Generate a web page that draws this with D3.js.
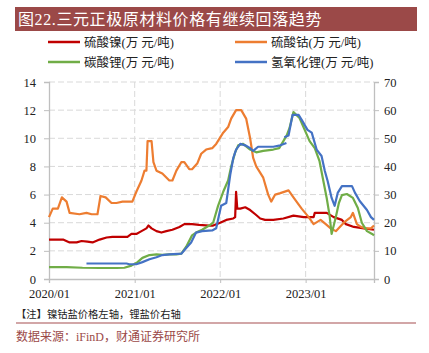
<!DOCTYPE html>
<html>
<head>
<meta charset="utf-8">
<script src="https://cdn.jsdelivr.net/npm/d3@7"></script>
<style>
  body { margin: 0; background: #fff; }
  svg { display: block; }
  text { font-family: "Liberation Serif", "Noto Sans CJK SC", serif; }
  .cjk { font-family: "Liberation Serif", "Noto Sans CJK SC", serif; }
</style>
</head>
<body>
<svg id="chart" width="429" height="353"></svg>
<script>
// Nickel sulfate (left axis, 万元/吨)
const nickel = [
  ['2020-01-01', 2.8], ['2020-03-01', 2.8], ['2020-03-29', 2.6], ['2020-04-28', 2.6],
  ['2020-05-19', 2.7], ['2020-06-13', 2.65], ['2020-07-05', 2.6], ['2020-08-04', 2.8],
  ['2020-09-03', 2.95], ['2020-09-28', 3.0], ['2020-10-28', 3.0], ['2020-12-01', 3.0],
  ['2020-12-18', 3.2], ['2021-01-08', 3.2], ['2021-01-30', 3.4], ['2021-02-20', 3.6],
  ['2021-03-01', 3.8], ['2021-03-14', 3.6], ['2021-04-04', 3.4], ['2021-04-25', 3.3],
  ['2021-05-16', 3.4], ['2021-06-11', 3.5], ['2021-07-11', 3.7], ['2021-08-01', 3.9],
  ['2021-09-03', 3.9], ['2021-10-03', 3.85], ['2021-11-15', 3.8], ['2021-12-02', 3.8],
  ['2022-01-01', 4.0], ['2022-01-27', 4.2], ['2022-02-26', 4.3], ['2022-03-06', 4.4],
  ['2022-03-10', 6.2], ['2022-03-15', 5.0], ['2022-03-28', 5.0], ['2022-04-18', 5.1],
  ['2022-05-09', 4.9], ['2022-05-31', 4.6], ['2022-06-21', 4.3], ['2022-07-12', 4.2],
  ['2022-08-16', 4.2], ['2022-09-28', 4.3], ['2022-11-10', 4.5], ['2022-12-24', 4.4],
  ['2023-02-04', 4.4], ['2023-02-09', 4.7], ['2023-04-01', 4.7], ['2023-05-01', 4.4],
  ['2023-06-05', 4.2], ['2023-06-22', 3.9], ['2023-07-26', 3.7], ['2023-09-07', 3.6],
  ['2023-10-20', 3.5]
]

// Cobalt sulfate (left axis)
const cobalt = [
  ['2020-01-01', 4.4], ['2020-01-17', 5.0], ['2020-02-08', 5.0], ['2020-02-25', 5.8],
  ['2020-03-16', 5.5], ['2020-03-29', 4.7], ['2020-05-10', 4.6], ['2020-06-09', 4.7],
  ['2020-07-01', 4.6], ['2020-07-26', 4.6], ['2020-08-08', 5.9], ['2020-08-30', 5.8],
  ['2020-09-24', 5.4], ['2020-10-15', 5.4], ['2020-11-10', 5.5], ['2020-12-22', 5.5],
  ['2021-01-08', 6.2], ['2021-01-30', 7.0], ['2021-02-12', 7.7], ['2021-02-20', 7.7],
  ['2021-02-25', 9.8], ['2021-03-14', 9.8], ['2021-03-22', 8.3], ['2021-04-04', 7.7],
  ['2021-04-29', 7.5], ['2021-05-29', 7.0], ['2021-06-11', 7.0], ['2021-06-28', 7.7],
  ['2021-07-19', 8.3], ['2021-08-01', 8.3], ['2021-08-22', 7.8], ['2021-09-03', 7.8],
  ['2021-09-25', 8.2], ['2021-10-12', 8.9], ['2021-11-02', 9.2], ['2021-11-28', 9.3],
  ['2021-12-15', 9.6], ['2022-01-14', 10.4], ['2022-02-04', 10.8], ['2022-02-17', 11.4],
  ['2022-03-10', 12.0], ['2022-04-01', 12.0], ['2022-04-22', 11.4], ['2022-05-09', 10.0],
  ['2022-05-22', 8.6], ['2022-06-04', 8.0], ['2022-07-04', 7.2], ['2022-07-25', 6.0],
  ['2022-08-07', 5.5], ['2022-08-24', 6.0], ['2022-09-15', 6.1], ['2022-10-20', 6.3],
  ['2022-11-10', 5.8], ['2022-12-15', 5.0], ['2023-01-14', 4.4], ['2023-02-04', 3.9],
  ['2023-03-06', 4.2], ['2023-03-28', 3.9], ['2023-04-18', 3.6], ['2023-05-10', 3.4],
  ['2023-06-13', 4.0], ['2023-07-13', 4.4], ['2023-07-22', 4.7], ['2023-08-08', 3.9],
  ['2023-08-25', 3.7], ['2023-09-16', 3.6], ['2023-10-07', 3.6], ['2023-10-20', 3.8]
]

// Lithium carbonate (right axis)
const lithiumCarb = [
  ['2020-01-01', 4.25], ['2020-03-16', 4.25], ['2020-05-23', 4.0], ['2020-08-04', 3.9],
  ['2020-10-15', 3.9], ['2020-11-18', 4.0], ['2020-12-18', 4.75], ['2021-01-13', 6.0],
  ['2021-02-03', 7.5], ['2021-03-05', 8.5], ['2021-04-04', 8.75], ['2021-04-29', 8.6],
  ['2021-05-29', 8.75], ['2021-06-28', 8.75], ['2021-07-19', 9.0], ['2021-08-09', 11.5],
  ['2021-09-03', 15.5], ['2021-09-20', 16.5], ['2021-10-16', 17.5], ['2021-11-15', 19.0],
  ['2021-12-02', 20.0], ['2021-12-23', 26.0], ['2022-01-14', 31.0], ['2022-02-04', 35.0],
  ['2022-02-17', 40.0], ['2022-03-06', 45.0], ['2022-03-19', 47.5], ['2022-04-09', 48.0],
  ['2022-05-09', 46.0], ['2022-06-04', 45.0], ['2022-07-04', 45.5], ['2022-08-16', 46.0],
  ['2022-09-10', 46.5], ['2022-09-28', 49.0], ['2022-10-11', 50.8], ['2022-10-24', 53.6],
  ['2022-11-10', 59.3], ['2022-12-06', 57.2], ['2022-12-28', 53.0], ['2023-01-18', 49.0],
  ['2023-02-09', 46.5], ['2023-03-01', 42.0], ['2023-03-15', 36.0], ['2023-04-01', 28.8],
  ['2023-04-13', 22.7], ['2023-04-22', 16.0], ['2023-05-10', 22.0], ['2023-05-23', 27.0],
  ['2023-06-05', 29.8], ['2023-06-26', 30.2], ['2023-07-22', 28.8], ['2023-08-12', 25.2],
  ['2023-08-29', 20.0], ['2023-09-20', 17.0], ['2023-10-12', 16.0], ['2023-10-20', 15.5]
]

// Lithium hydroxide (right axis), two stretches
const lithiumHyd = [
  ['2020-06-09', 5.5], ['2020-08-04', 5.5], ['2020-11-27', 5.5], ['2020-12-09', 5.25],
  ['2021-01-08', 5.25], ['2021-02-03', 6.0], ['2021-03-05', 7.0], ['2021-04-04', 7.75],
  ['2021-04-29', 8.5], ['2021-05-29', 8.75], ['2021-07-19', 9.0], ['2021-08-09', 11.0],
  ['2021-08-30', 13.0], ['2021-09-20', 16.5], ['2021-10-16', 17.0], ['2021-11-28', 17.25],
  ['2021-12-15', 18.0], ['2022-01-05', 26.0], ['2022-01-27', 27.0], ['2022-02-13', 37.0],
  ['2022-02-26', 43.0], ['2022-03-10', 46.0], ['2022-03-28', 48.0], ['2022-04-18', 47.5],
  ['2022-05-09', 46.5], ['2022-05-22', 45.5], ['2022-06-12', 47.0], ['2022-08-16', 47.0],
  ['2022-09-15', 47.5], ['2022-10-11', 48.3]
]
const lithiumHyd2 = [
  ['2022-10-02', 50.4], ['2022-10-20', 51.0], ['2022-11-06', 58.3], ['2022-12-02', 58.3],
  ['2022-12-19', 56.0], ['2023-01-09', 53.0], ['2023-01-27', 52.0], ['2023-02-17', 46.0],
  ['2023-03-10', 43.7], ['2023-03-24', 38.4], ['2023-04-05', 34.8], ['2023-04-22', 28.8],
  ['2023-05-05', 26.0], ['2023-05-18', 30.6], ['2023-06-05', 33.0], ['2023-07-18', 33.0],
  ['2023-07-31', 30.6], ['2023-08-20', 27.7], ['2023-09-20', 24.5], ['2023-10-07', 22.0],
  ['2023-10-20', 21.0]
]

const leftTicks = [0, 2, 4, 6, 8, 10, 12, 14]
const rightTicks = [0, 10, 20, 30, 40, 50, 60, 70]
const yearTicks = ['2020-01-01', '2021-01-01', '2022-01-01', '2023-01-01']

const legendItems = [
  { name: '硫酸镍(万 元/吨)', color: '#c00000' },
  { name: '硫酸钴(万 元/吨)', color: '#ed7d31' },
  { name: '碳酸锂(万 元/吨)', color: '#70ad47' },
  { name: '氢氧化锂(万 元/吨)', color: '#4472c4' }
]

let parse = d3.timeParse('%Y-%m-%d')
let svg = d3.select('#chart')

let margin = { left: 49, right: 374, top: 82, bottom: 279 }

let x = d3.scaleTime()
    .domain([parse('2020-01-01'), parse('2023-10-20')])
    .range([margin.left, margin.right])
let yL = d3.scaleLinear().domain([0, 14]).range([margin.bottom, margin.top])
let yR = d3.scaleLinear().domain([0, 70]).range([margin.bottom, margin.top])

// Title bar
svg.append('rect')
    .attr('x', 15).attr('y', 7).attr('width', 402).attr('height', 24)
    .attr('fill', '#9b4948')
svg.append('text')
    .attr('x', 18).attr('y', 25)
    .attr('fill', '#fff')
    .style('font-size', '16px')
    .style('letter-spacing', '0.6px')
    .text('图22.三元正极原材料价格有继续回落趋势')

// Legend
legendItems.forEach(function (d, i) {
    let lx = i % 2 === 0 ? 48 : 235
    let ly = i < 2 ? 42 : 62
    svg.append('line')
        .attr('x1', lx).attr('x2', lx + 32)
        .attr('y1', ly).attr('y2', ly)
        .attr('stroke', d.color).attr('stroke-width', 2.5)
    svg.append('text')
        .attr('x', lx + 36).attr('y', ly + 4.5)
        .style('font-size', '12.5px')
        .attr('fill', '#222')
        .text(d.name)
})

// Grid
let grid = svg.append('g')
grid.selectAll('.hgrid')
    .data(leftTicks.slice(1))
    .enter().append('line')
    .attr('x1', margin.left).attr('x2', margin.right)
    .attr('y1', d => yL(d)).attr('y2', d => yL(d))
    .attr('stroke', '#d9d9d9').attr('stroke-dasharray', '6,3')
grid.selectAll('.vgrid')
    .data(yearTicks.slice(1))
    .enter().append('line')
    .attr('x1', d => x(parse(d))).attr('x2', d => x(parse(d)))
    .attr('y1', margin.top).attr('y2', margin.bottom)
    .attr('stroke', '#d9d9d9').attr('stroke-dasharray', '6,3')

// Axes
let axisColor = '#bfbfbf'
let leftAxis = svg.append('g')
    .attr('transform', 'translate(' + margin.left + ',0)')
    .call(d3.axisLeft(yL).tickValues(leftTicks).tickSize(5).tickPadding(8))
let rightAxis = svg.append('g')
    .attr('transform', 'translate(' + margin.right + ',0)')
    .call(d3.axisRight(yR).tickValues(rightTicks).tickSize(5).tickPadding(5))
let bottomAxis = svg.append('g')
    .attr('transform', 'translate(0,' + margin.bottom + ')')
    .call(d3.axisBottom(x).tickValues(yearTicks.map(parse))
        .tickFormat(d3.timeFormat('%Y/%m')).tickSize(4).tickPadding(6))

;[leftAxis, rightAxis, bottomAxis].forEach(function (g) {
    g.select('.domain').attr('stroke', axisColor).attr('stroke-width', 1.3)
    g.selectAll('.tick line').attr('stroke', axisColor)
    g.selectAll('text')
        .style('font-family', '"Liberation Serif", serif')
        .style('font-size', '12.5px')
        .attr('fill', '#222')
})

// Series lines
function drawLine(data, scale, color) {
    let line = d3.line()
        .x(d => x(parse(d[0])))
        .y(d => scale(d[1]))
    svg.append('path')
        .datum(data)
        .attr('d', line)
        .attr('fill', 'none')
        .attr('stroke', color)
        .attr('stroke-width', 2.2)
        .attr('stroke-linejoin', 'round')
}

drawLine(nickel, yL, '#c00000')
drawLine(cobalt, yL, '#ed7d31')
drawLine(lithiumCarb, yR, '#70ad47')
drawLine(lithiumHyd, yR, '#4472c4')
drawLine(lithiumHyd2, yR, '#4472c4')

// Footnotes
svg.append('text')
    .attr('x', 16).attr('y', 318)
    .style('font-size', '10.3px')
    .attr('fill', '#222')
    .text('【注】镍钴盐价格左轴，锂盐价右轴')
svg.append('line')
    .attr('x1', 16).attr('x2', 416)
    .attr('y1', 323).attr('y2', 323)
    .attr('stroke', '#c3898a').attr('stroke-width', 1.5)
svg.append('text')
    .attr('x', 16).attr('y', 341)
    .style('font-size', '12px')
    .attr('fill', '#9b4948')
    .text('数据来源：iFinD，财通证券研究所')
</script>
</body>
</html>
